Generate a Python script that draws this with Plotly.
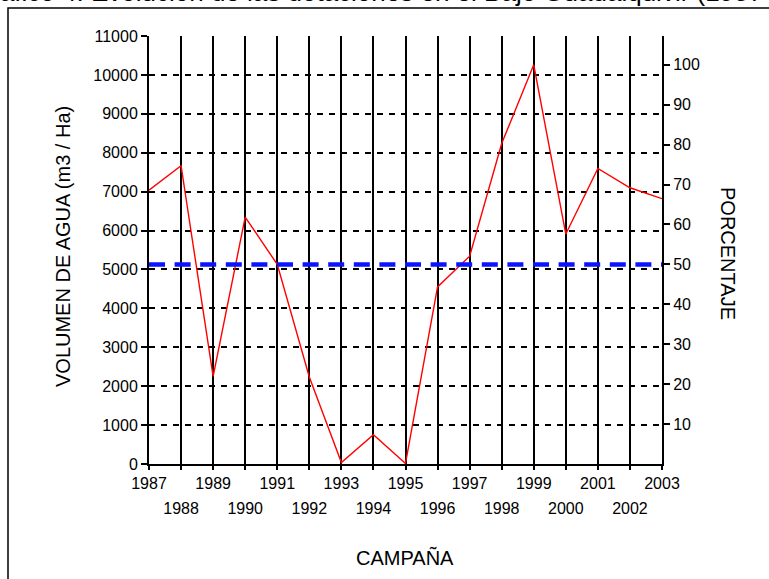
import plotly.graph_objects as go

# ---- data ----
anios = [1987, 1988, 1989, 1990, 1991, 1992, 1993, 1994, 1995,
         1996, 1997, 1998, 1999, 2000, 2001, 2002, 2003]
volumen = [7040, 7665, 2250, 6345, 5130, 2235, 40, 755, 15,
           4550, 5340, 8235, 10260, 5910, 7595, 7100, 6820]
anios_fila1 = [1987, 1989, 1991, 1993, 1995, 1997, 1999, 2001, 2003]
anios_fila2 = [1988, 1990, 1992, 1994, 1996, 1998, 2000, 2002]
umbral_x = [1987, 2003]
umbral_pct = [50, 50]
ticks_vol = [0, 1000, 2000, 3000, 4000, 5000, 6000, 7000, 8000, 9000, 10000, 11000]
ticks_pct = [10, 20, 30, 40, 50, 60, 70, 80, 90, 100]

titulo = "Gráfico 4. Evolución de las dotaciones en el Bajo Guadalquivir (1987-2003)"

# ---- geometry (pixels) ----
W, H = 769, 579
L, R, T, B = 149, 107, 36, 115
pw, ph = W - L - R, H - T - B
def px_x(x):
    return (x - L) / pw
def px_y(y):
    return (H - B - y) / ph

FONT = "Liberation Sans, Arial, sans-serif"

fig = go.Figure()
fig.add_trace(go.Scatter(x=anios, y=volumen, mode="lines",
                         line=dict(color="#ff0000", width=1.4),
                         xaxis="x", yaxis="y", showlegend=False, hoverinfo="x+y"))
fig.add_trace(go.Scatter(x=umbral_x, y=umbral_pct, mode="lines",
                         line=dict(color="#0a14ff", width=4.5, dash="16px,9.6px"),
                         xaxis="x2", yaxis="y2", showlegend=False))

pct_max = 11000 / max(volumen) * 100

fig.update_layout(
    width=W, height=H,
    margin=dict(l=L, r=R, t=T, b=B, pad=0),
    paper_bgcolor="white", plot_bgcolor="white",
    font=dict(family=FONT, size=16, color="black"),
    xaxis=dict(range=[1987, 2003], tickmode="array", tickvals=anios_fila1,
               ticktext=[str(a) for a in anios_fila1],
               showgrid=True, gridcolor="black", gridwidth=1.5,
               ticks="outside", ticklen=4, tickwidth=1.5, tickcolor="black",
               minor=dict(tickmode="array", tickvals=anios_fila2, showgrid=True,
                          gridcolor="black", gridwidth=1.5, ticks="outside",
                          ticklen=4, tickwidth=1.5, tickcolor="black"),
               showline=True, linecolor="black", linewidth=2,
               zeroline=False, fixedrange=True),
    xaxis2=dict(range=[1987, 2003], overlaying="x", anchor="y", side="bottom",
                tickmode="array", tickvals=anios_fila2,
                ticktext=[str(a) for a in anios_fila2],
                showgrid=False, showline=False, ticks="", zeroline=False,
                ticklabelstandoff=33),
    yaxis=dict(range=[0, 11000], tickmode="array", tickvals=ticks_vol,
               ticktext=[str(v) for v in ticks_vol],
               showgrid=True, gridcolor="black", gridwidth=1.5, griddash="6px,6px",
               ticks="outside", ticklen=6, tickwidth=1.5, tickcolor="black",
               showline=True, linecolor="black", linewidth=2, zeroline=False),
    yaxis2=dict(range=[0, pct_max], overlaying="y", side="right", anchor="x",
                tickmode="array", tickvals=ticks_pct,
                ticktext=[str(v) for v in ticks_pct],
                ticks="outside", ticklen=6, tickwidth=1.5, tickcolor="black",
                showgrid=False, showline=True, linecolor="black", linewidth=2,
                zeroline=False),
    shapes=[dict(type="rect", xref="paper", yref="paper", layer="below",
                 x0=px_x(8), x1=px_x(800), y0=px_y(8), y1=px_y(590),
                 line=dict(color="black", width=1.5), fillcolor="rgba(0,0,0,0)")],
    annotations=[
        dict(text=titulo, xref="paper", yref="paper", x=px_x(-31), y=px_y(-8),
             xanchor="left", yanchor="middle", showarrow=False,
             font=dict(size=26, family=FONT, color="black")),
        dict(text="VOLUMEN DE AGUA (m3 / Ha)", xref="paper", yref="paper",
             x=px_x(63), y=px_y(247), textangle=-90, showarrow=False,
             xanchor="center", yanchor="middle", font=dict(size=20, family=FONT)),
        dict(text="PORCENTAJE", xref="paper", yref="paper",
             x=px_x(728), y=px_y(253), textangle=90, showarrow=False,
             xanchor="center", yanchor="middle", font=dict(size=20, family=FONT)),
        dict(text="CAMPAÑA", xref="paper", yref="paper",
             x=px_x(405), y=px_y(557), showarrow=False,
             xanchor="center", yanchor="middle", font=dict(size=20, family=FONT)),
    ],
)

fig.write_html("out.html", config={"displayModeBar": False},
               post_script="document.body.style.margin='0';document.body.style.overflow='hidden';")
